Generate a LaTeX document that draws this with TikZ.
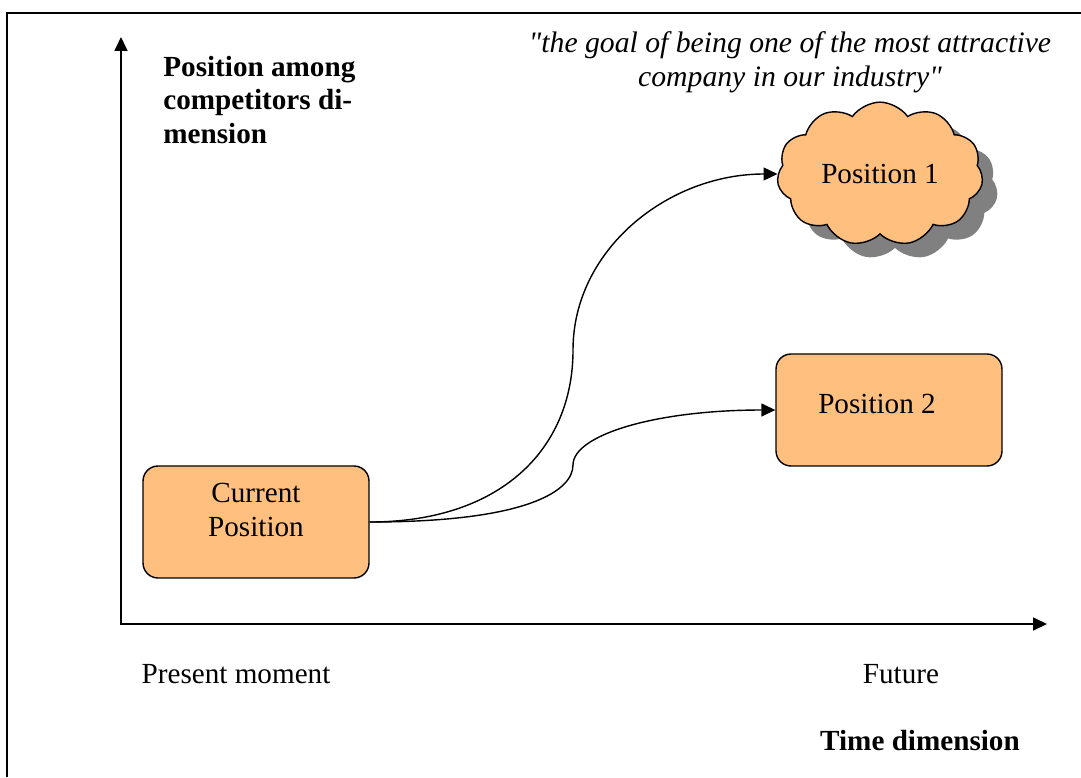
\documentclass[tikz,border=0pt]{standalone}
\usepackage{fontspec}
\setmainfont{Liberation Serif}[Ligatures=TeXOff]
\usetikzlibrary{arrows.meta,shapes.symbols,shadows}
\definecolor{boxorange}{RGB}{255,191,127}
\definecolor{shadowgray}{RGB}{128,128,128}

\begin{document}
\begin{tikzpicture}[x=0.02cm,y=-0.02cm,>={Triangle[length=0.28cm,width=0.26cm]}]
        \tikzstyle{posbox}=[draw,fill=boxorange,rounded corners=0.3cm,line width=0.8pt,minimum width=4.52cm,minimum height=2.24cm,align=center,font=\fontsize{16.6}{19.3}\selectfont]
        \tikzstyle{cloudbox}=[draw,fill=boxorange,cloud,cloud puffs=11,cloud puff arc=110,aspect=1.5,line width=0.8pt,minimum width=4.12cm,minimum height=2.76cm,font=\fontsize{16.6}{19.3}\selectfont,copy shadow={shadow xshift=0.3cm,shadow yshift=-0.28cm,fill=shadowgray,draw=none}]
        \tikzstyle{axis}=[line width=1pt,<->]
        \tikzstyle{path}=[line width=0.8pt,->]
        \tikzstyle{lbl}=[inner sep=0pt,font=\fontsize{16.6}{19.3}\selectfont]

        \useasboundingbox (0,0) rectangle (1081,777);
        \draw[line width=0.6pt] (7,777) -- (7,13) -- (1081,13);

        % axes
        \coordinate (o) at (121,624);
        \coordinate (ytip) at (121,37);
        \coordinate (xtip) at (1047,624);
        \draw[axis] (ytip) -- (o) -- (xtip);

        \node[lbl,anchor=west,align=left,font=\fontsize{16.6}{19.3}\selectfont\bfseries] (ylabel) at (163,100){Position among\\competitors di-\\mension};
        \node[lbl,align=center,font=\fontsize{16.9}{19.3}\selectfont\itshape] (goal) at (790,62){"the goal of being one of the most attractive\\company in our industry"};
        \node[lbl] (now) at (236,674){Present moment};
        \node[lbl] (future) at (901,674){Future};
        \node[lbl,font=\fontsize{16.6}{19.3}\selectfont\bfseries] (xlabel) at (920,741){Time dimension};

        % positions
        \node[posbox] (cur) at (256,522){Current\\Position\rule[-0.48cm]{0pt}{0pt}};
        \node[cloudbox] (pos1) at (880,174){Position 1};
        \node[posbox] (pos2) at (889,410){Position 2\hspace{0.48cm}\rule[-0.24cm]{0pt}{0pt}};

        \coordinate (bend1) at (573,350);
        \coordinate (bend2) at (573,465);

        \draw[path] (cur.east) .. controls +(130,0) and +(0,100) .. (bend1) .. controls +(0,-100) and +(-110,0) .. (pos1.west);
        \draw[path] (cur.east) .. controls +(160,0) and +(0,25) .. (bend2) .. controls +(0,-30) and +(-120,0) .. (pos2.west);

    \end{tikzpicture}
\end{document}
